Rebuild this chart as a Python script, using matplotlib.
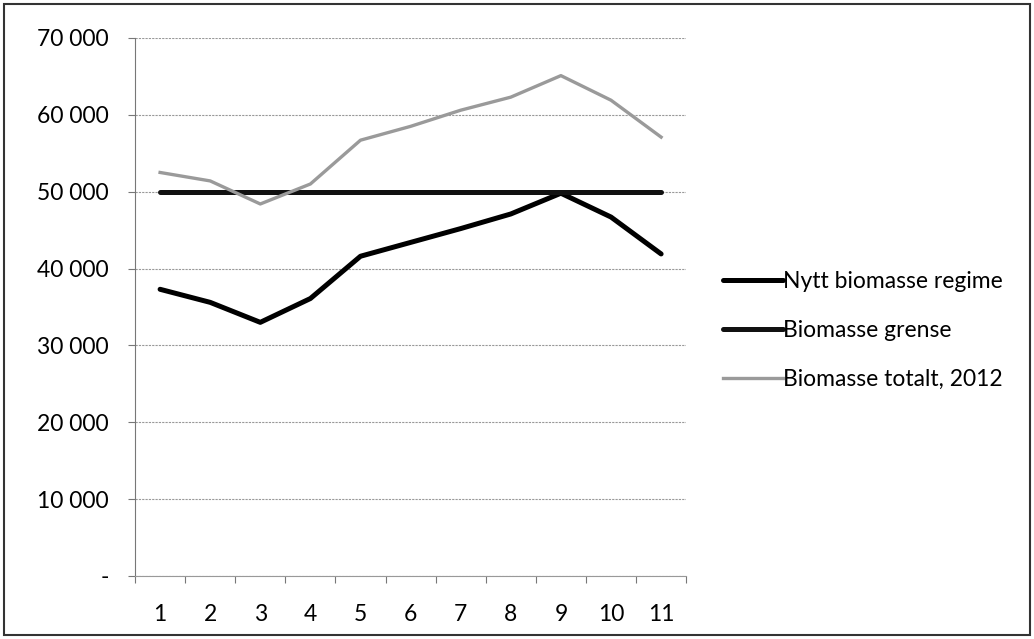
import matplotlib.pyplot as plt
from matplotlib.ticker import FuncFormatter, MultipleLocator
from matplotlib.patches import Rectangle

plt.rcParams['font.family'] = ['Lato', 'DejaVu Sans']

maaned = list(range(1, 12))
nytt_regime = [37300, 35600, 33000, 36100, 41600, 43400, 45200, 47100, 49800, 46700, 41900]
grense = [50000] * 11
totalt_2012 = [52500, 51400, 48400, 51000, 56700, 58500, 60600, 62300, 65100, 61900, 57100]

fig = plt.figure(figsize=(10.34, 6.39), dpi=100)
ax = fig.add_axes([0.1306, 0.0986, 0.533, 0.842])

ax.plot(maaned, nytt_regime, color='black', lw=3.6, solid_capstyle='round',
        label='Nytt biomasse regime', zorder=3)
ax.plot(maaned, grense, color='#111111', lw=3.6, solid_capstyle='round',
        label='Biomasse grense', zorder=3)
ax.plot(maaned, totalt_2012, color='#9a9a9a', lw=2.4,
        label='Biomasse totalt, 2012', zorder=4)

ax.set_xlim(0.5, 11.5)
ax.set_ylim(0, 70000)
ax.yaxis.set_major_locator(MultipleLocator(10000))
ax.yaxis.set_major_formatter(FuncFormatter(
    lambda v, p: '-' if v == 0 else f'{int(v):,}'.replace(',', ' ')))
ax.set_xticks(maaned)
ax.set_xticks([x + 0.5 for x in range(0, 12)], minor=True)
ax.tick_params(axis='x', which='major', length=0, pad=20, labelsize=16.5)
ax.tick_params(axis='x', which='minor', length=5, color='#777777', width=0.8)
ax.tick_params(axis='y', length=5, color='#777777', width=0.8, pad=14, labelsize=16.5)

ax.grid(axis='y', color='#999999', lw=0.8, ls=(0, (2, 1)))
ax.set_axisbelow(True)
for s in ['top', 'right']:
    ax.spines[s].set_visible(False)
ax.spines['left'].set_color('#777777')
ax.spines['bottom'].set_color('#999999')
ax.spines['bottom'].set_linestyle((0, (2, 1)))

ax.legend(loc='center left', bbox_to_anchor=(1.03, 0.457), frameon=False,
          fontsize=16.5, handlelength=2.6, handletextpad=0.0, labelspacing=1.22)

fig.patches.append(Rectangle((0.004, 0.006), 0.992, 0.988, transform=fig.transFigure,
                             fill=False, edgecolor='#333333', lw=1.5))

fig.savefig('out.png', dpi=100)
